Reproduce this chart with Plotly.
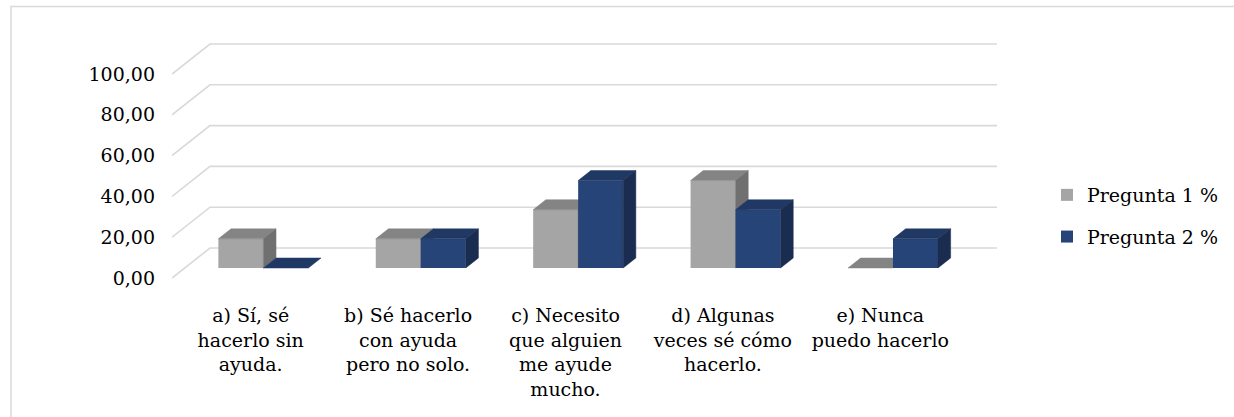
import plotly.graph_objects as go

# ---------------- data ----------------
categories = [
    "a) Sí, sé<br>hacerlo sin<br>ayuda.",
    "b) Sé hacerlo<br>con ayuda<br>pero no solo.",
    "c) Necesito<br>que alguien<br>me ayude<br>mucho.",
    "d) Algunas<br>veces sé cómo<br>hacerlo.",
    "e) Nunca<br>puedo hacerlo",
]
series_names = ["Pregunta 1 %", "Pregunta 2 %"]
pregunta1 = [14.29, 14.29, 28.57, 42.86, 0.00]
pregunta2 = [0.00, 14.29, 42.86, 28.57, 14.29]
y_ticks = [0, 20, 40, 60, 80, 100]

# ---------------- styling / geometry ----------------
W, H = 1234, 417
ML, MR, MT, MB = 172, 234, 30, 127
PX_PER_CAT = 157.4      # pixel width of one category band (front plane)
PX_PER_VAL = 2.04       # pixels per value unit
ZERO_PX = 278           # pixel row of the front zero line
DEPTH_PX = (38.0, 30.0) # oblique depth of the floor in pixels (right, up)
BAR_PX = 45.0           # bar width in pixels

FONT = "DejaVu Serif"
FS = 19
GRID = "#d9d9d9"
face_colors = [
    {"front": "#a5a5a5", "top": "#848484", "side": "#707070"},
    {"front": "#264478", "top": "#203864", "side": "#1a2c50"},
]

x_max = (W - ML - MR) / PX_PER_CAT
y_min = -(H - MB - ZERO_PX) / PX_PER_VAL
y_max = (ZERO_PX - MT) / PX_PER_VAL
DX = DEPTH_PX[0] / PX_PER_CAT
DY = DEPTH_PX[1] / PX_PER_VAL
BW = BAR_PX / PX_PER_CAT
n = len(categories)
ddx, ddy = DX / 3, DY / 3   # bars occupy the middle third of the floor depth
base = ddy

fig = go.Figure()

all_series = [pregunta1, pregunta2]
axes = [("x", "y"), ("x2", "y2")]
for s, (vals, name, cols, (xa, ya)) in enumerate(zip(all_series, series_names, face_colors, axes)):
    centers = [i + 0.5 + ddx for i in range(n)]
    fig.add_trace(go.Bar(
        x=centers, y=vals, base=[base] * n, width=[BW] * n,
        offset=[-BW if s == 0 else 0] * n,
        marker=dict(color=cols["front"], line=dict(width=0)),
        name=name, legendgroup=name, xaxis=xa, yaxis=ya,
        hovertemplate="%{y:.2f}<extra>" + name + "</extra>",
    ))
    tx, ty, sx, sy = [], [], [], []
    for c, v in zip(centers, vals):
        x0 = c - BW if s == 0 else c
        x1 = x0 + BW
        t = base + v
        tx += [x0, x1, x1 + ddx, x0 + ddx, x0, None]
        ty += [t, t, t + ddy, t + ddy, t, None]
        if v > 0:
            sx += [x1, x1 + ddx, x1 + ddx, x1, x1, None]
            sy += [base, base + ddy, t + ddy, t, base, None]
    fig.add_trace(go.Scatter(x=tx, y=ty, mode="lines", fill="toself",
                             fillcolor=cols["top"], line=dict(color=cols["top"], width=0.5),
                             showlegend=False, hoverinfo="skip", xaxis=xa, yaxis=ya))
    fig.add_trace(go.Scatter(x=sx, y=sy, mode="lines", fill="toself",
                             fillcolor=cols["side"], line=dict(color=cols["side"], width=0.5),
                             showlegend=False, hoverinfo="skip", xaxis=xa, yaxis=ya))

shapes = []
for v in y_ticks:
    shapes.append(dict(type="path", xref="x", yref="y", layer="below",
                       path=f"M 0,{v} L {DX},{v + DY} L {n + DX},{v + DY}",
                       line=dict(color=GRID, width=1.6)))

pw, ph = W - ML - MR, H - MT - MB
bx0 = (11 - ML) / pw
by_top = (H - MB - 6.5) / ph
by_bot = (H - MB - H - 5) / ph
bx_right = (W + 5 - ML) / pw
shapes.append(dict(type="path", xref="paper", yref="paper", layer="below",
                   path=f"M {bx0},{by_bot} L {bx0},{by_top} L {bx_right},{by_top}",
                   line=dict(color=GRID, width=1.5)))

fig.update_layout(
    width=W, height=H, autosize=False,
    margin=dict(l=ML, r=MR, t=MT, b=MB, pad=0, autoexpand=False),
    paper_bgcolor="white", plot_bgcolor="rgba(0,0,0,0)",
    separators=",.",
    font=dict(family=FONT, size=FS, color="#000000"),
    showlegend=True,
    legend=dict(xref="container", yref="container", x=1047 / W, y=1 - 176 / H,
                xanchor="left", yanchor="top", font=dict(size=FS, family=FONT),
                tracegroupgap=14, bgcolor="rgba(0,0,0,0)"),
    shapes=shapes,
    barmode="overlay",
    xaxis=dict(range=[0, x_max], tickvals=[i + 0.5 for i in range(n)], ticktext=categories,
               tickangle=0, showgrid=False, zeroline=False, showline=False, ticks="",
               automargin=False,
               ticklabelstandoff=12, tickfont=dict(size=FS, family=FONT), fixedrange=True),
    yaxis=dict(range=[y_min, y_max], tickvals=y_ticks, tickformat=".2f",
               showgrid=False, zeroline=False, showline=False, ticks="",
               automargin=False,
               ticklabelstandoff=16, tickfont=dict(size=FS, family=FONT), fixedrange=True),
    xaxis2=dict(range=[0, x_max], overlaying="x", visible=False, fixedrange=True),
    yaxis2=dict(range=[y_min, y_max], overlaying="y", visible=False, fixedrange=True),
    hovermode="closest",
)

fig.write_html("out.html", config={"displayModeBar": False},
               post_script="document.body.style.margin='0';document.body.style.overflow='hidden';")
